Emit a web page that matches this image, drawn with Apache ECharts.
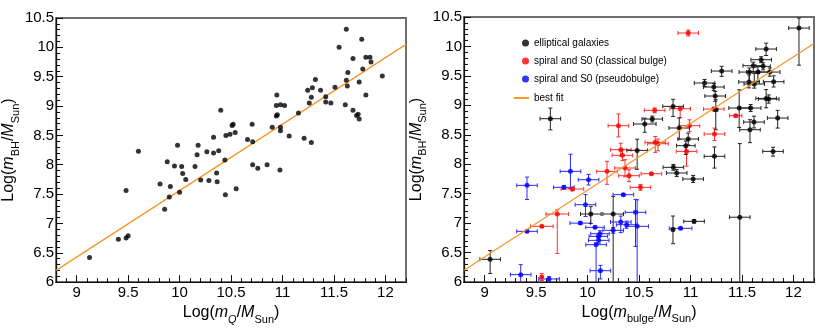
<!DOCTYPE html>
<html>
<head>
<meta charset="utf-8">
<script src="https://cdn.jsdelivr.net/npm/echarts@6/dist/echarts.min.js"></script>
<style>
html, body { margin: 0; padding: 0; background: #fff; }
#chart { width: 822px; height: 330px; }
</style>
</head>
<body>
<div id="chart"></div>
<script>
// left panel: log(mQ), log(mBH)
var quasiMassPoints = [
	[9.125, 6.42], [9.405, 6.73], [9.48, 6.75], [9.50, 6.79], [9.48, 7.56], [9.60, 8.23],
	[9.81, 7.67], [9.855, 7.24], [9.88, 8.05], [9.90, 7.45], [9.91, 7.63], [9.95, 7.98],
	[9.98, 8.33], [10.0, 7.53], [10.02, 7.97], [10.03, 7.85], [10.06, 7.75], [10.15, 7.97],
	[10.17, 8.17], [10.18, 8.33], [10.205, 7.74], [10.265, 8.22], [10.285, 7.73], [10.33, 8.20],
	[10.33, 8.47], [10.36, 7.86], [10.365, 7.71], [10.38, 8.24], [10.40, 8.93], [10.44, 8.08],
	[10.445, 7.49], [10.45, 8.50], [10.49, 8.52], [10.51, 8.67], [10.52, 8.69], [10.54, 8.55],
	[10.55, 7.59], [10.66, 8.43], [10.705, 8.69], [10.71, 8.39], [10.71, 8.00], [10.76, 7.94],
	[10.85, 8.00], [10.90, 8.64], [10.94, 8.83], [10.945, 9.19], [10.95, 8.85], [10.94, 9.01],
	[10.975, 7.91], [10.98, 8.58], [10.98, 8.64], [10.98, 9.02], [11.02, 9.01], [11.065, 8.49],
	[11.155, 8.88], [11.21, 8.45], [11.245, 9.27], [11.26, 9.05], [11.28, 9.15], [11.28, 8.38],
	[11.29, 9.31], [11.32, 9.45], [11.37, 9.27], [11.42, 9.16], [11.42, 9.07], [11.47, 9.05],
	[11.51, 9.32], [11.55, 10.00], [11.61, 9.02], [11.62, 10.31], [11.62, 9.44], [11.63, 9.34],
	[11.635, 9.57], [11.685, 9.81], [11.685, 8.93], [11.72, 8.84], [11.735, 8.86], [11.745, 8.78],
	[11.745, 9.41], [11.77, 10.14], [11.78, 9.63], [11.81, 9.19], [11.81, 9.83], [11.85, 9.83],
	[11.86, 9.75], [11.97, 9.51]
];

// right panel rows: [log(mbulge), log(mBH), xErr, yErrUp, yErrDown]
var ellipticals = [
	[9.054, 6.385, 0.10, 0.15, 0.24], [9.639, 8.773, 0.10, 0.18, 0.19], [10.032, 7.154, 0.10, 0.13, 0.16],
	[10.249, 7.154, 0.10, 0.30, 1.20], [10.482, 8.235, 0.10, 0.19, 0.32], [10.556, 8.683, 0.11, 0.10, 0.14],
	[10.629, 8.767, 0.10, 0.05, 0.05], [10.831, 8.982, 0.10, 0.12, 0.17], [10.891, 8.615, 0.10, 0.17, 0.19],
	[10.978, 8.428, 0.10, 0.10, 0.10], [10.955, 8.315, 0.09, 0.08, 0.15], [10.834, 7.947, 0.10, 0.05, 0.05],
	[10.866, 7.851, 0.10, 0.06, 0.06], [11.026, 7.749, 0.10, 0.06, 0.06], [11.035, 7.03, 0.10, 0.03, 0.03],
	[10.83, 6.89, 0.01, 0.23, 0.24], [11.479, 7.10, 0.10, 1.25, 1.15], [11.233, 8.134, 0.10, 0.16, 0.20],
	[11.802, 8.218, 0.10, 0.07, 0.08], [11.735, 9.956, 0.10, 0.10, 0.11], [11.687, 9.775, 0.10, 0.05, 0.05],
	[11.61, 9.673, 0.10, 0.06, 0.10], [11.706, 9.662, 0.07, 0.06, 0.06], [11.572, 9.565, 0.10, 0.07, 0.22],
	[11.655, 9.565, 0.11, 0.09, 0.16], [11.77, 9.565, 0.10, 0.07, 0.07], [11.569, 9.396, 0.10, 0.12, 0.10],
	[11.62, 9.362, 0.10, 0.18, 0.07], [11.808, 9.401, 0.10, 0.10, 0.09], [11.303, 9.582, 0.10, 0.08, 0.09],
	[11.137, 9.379, 0.10, 0.06, 0.06], [11.227, 9.311, 0.10, 0.06, 0.06], [11.24, 9.158, 0.10, 0.08, 0.09],
	[11.735, 9.118, 0.10, 0.15, 0.16], [11.76, 9.107, 0.10, 0.07, 0.07], [11.585, 8.954, 0.10, 0.06, 0.06],
	[11.473, 8.954, 0.10, 0.31, 0.33], [11.246, 8.926, 0.02, 0.17, 0.34], [11.617, 8.716, 0.10, 0.10, 0.10],
	[11.578, 8.586, 0.10, 0.17, 0.22], [11.847, 8.784, 0.10, 0.13, 0.17], [12.054, 10.312, 0.10, 0.17, 0.63]
];
var classicalBulges = [
	[10.978, 10.228, 0.10, 0.05, 0.05], [10.90, 8.943, 0.10, 0.03, 0.15], [10.652, 8.915, 0.10, 0.04, 0.04],
	[10.30, 8.654, 0.10, 0.20, 0.19], [10.99, 8.654, 0.10, 0.10, 0.10], [10.962, 8.218, 0.10, 0.10, 0.25],
	[10.658, 8.371, 0.10, 0.10, 0.17], [10.684, 8.348, 0.10, 0.08, 0.12], [10.323, 8.247, 0.10, 0.11, 0.11],
	[10.339, 8.151, 0.10, 0.09, 0.09], [10.189, 7.879, 0.10, 0.17, 0.22], [10.364, 7.936, 0.10, 0.14, 0.15],
	[10.403, 7.805, 0.10, 0.10, 0.10], [10.62, 7.839, 0.10, 0.02, 0.02], [10.514, 7.607, 0.10, 0.05, 0.05],
	[9.853, 7.579, 0.11, 0.03, 0.03], [9.706, 7.154, 0.11, 0.07, 0.67], [9.556, 6.945, 0.11, 0.02, 0.02],
	[9.556, 6.085, 0.01, 0.06, 0.06], [11.233, 8.513, 0.10, 0.10, 0.11], [11.44, 8.824, 0.06, 0.02, 0.02],
	[11.227, 8.937, 0.10, 0.03, 0.03]
];
var pseudobulges = [
	[9.412, 7.641, 0.10, 0.14, 0.24], [9.412, 6.86, 0.10, 0.02, 0.02], [9.351, 6.125, 0.10, 0.17, 0.14],
	[9.626, 6.051, 0.10, 0.04, 0.04], [9.834, 7.879, 0.10, 0.29, 0.29], [10.01, 7.737, 0.10, 0.09, 0.09],
	[9.77, 7.607, 0.10, 0.03, 0.03], [10.348, 7.483, 0.10, 0.02, 0.02], [9.98, 7.313, 0.10, 0.17, 0.20],
	[10.466, 7.183, 0.10, 0.22, 0.58], [9.93, 7.0, 0.10, 0.02, 0.02], [10.073, 6.928, 0.09, 0.02, 0.02],
	[10.323, 7.019, 0.10, 0.10, 0.18], [10.38, 6.973, 0.10, 0.06, 0.06], [10.482, 6.945, 0.11, 0.45, 1.0],
	[10.249, 6.877, 0.10, 0.05, 0.05], [10.121, 6.82, 0.09, 0.05, 0.05], [10.105, 6.775, 0.09, 0.05, 0.05],
	[10.109, 6.707, 0.10, 0.05, 0.05], [10.083, 6.634, 0.10, 0.03, 0.70], [10.125, 6.192, 0.10, 0.09, 0.14],
	[10.904, 6.911, 0.11, 0.02, 0.02]
];

var bestFit = [[8.8, 6.2], [12.2, 10.05]];

var xMajorTicks = [9, 9.5, 10, 10.5, 11, 11.5, 12];
var xRange = [8.8, 12.2];
var yRange = [6, 10.5];

var FONT = 'Liberation Sans';
var ORANGE = '#f7962b';
var AXIS = '#111';

var nameRich = {
	n: { fontSize: 16, lineHeight: 18, verticalAlign: 'top', color: '#000', fontFamily: FONT },
	i: { fontSize: 16, lineHeight: 18, verticalAlign: 'top', color: '#000', fontStyle: 'italic', fontFamily: FONT },
	s: { fontSize: 11, lineHeight: 12, verticalAlign: 'top', padding: [9, 0, 0, 0], color: '#000', fontFamily: FONT },
	si: { fontSize: 11, lineHeight: 12, verticalAlign: 'top', padding: [9, 0, 0, 0], color: '#000', fontStyle: 'italic', fontFamily: FONT }
};
function massName(sub) {
	return '{n|Log(}{i|m}' + sub + '{n|/}{i|M}{s|Sun}{n|)}';
}

function mainX(grid, name) {
	return {
		type: 'value', gridIndex: grid, position: 'bottom', min: xRange[0], max: xRange[1],
		name: name, nameLocation: 'middle', nameGap: 19,
		nameTextStyle: { rich: nameRich },
		axisLine: { show: true, onZero: false, lineStyle: { color: AXIS, width: 1.2 } },
		axisTick: { show: true, inside: true, length: 7, customValues: xMajorTicks, lineStyle: { color: AXIS } },
		axisLabel: { customValues: xMajorTicks, margin: 3, color: '#000', fontSize: 15, fontFamily: FONT },
		splitLine: { show: false }
	};
}
// second bottom axis, only for the short 0.1 ticks (ticks need a visible axis line)
function minorX(grid) {
	return {
		type: 'value', gridIndex: grid, position: 'bottom', min: xRange[0], max: xRange[1], interval: 0.1,
		axisLine: { show: true, onZero: false, lineStyle: { color: AXIS, width: 1.2 } },
		axisTick: { show: true, inside: true, length: 4, lineStyle: { color: AXIS } },
		axisLabel: { show: false },
		splitLine: { show: false }
	};
}
function mainY(grid, name) {
	return {
		type: 'value', gridIndex: grid, position: 'left', min: yRange[0], max: yRange[1], interval: 0.5,
		name: name, nameLocation: 'middle', nameGap: 29,
		nameTextStyle: { rich: nameRich },
		axisLine: { show: true, onZero: false, lineStyle: { color: AXIS, width: 1.2 } },
		axisTick: { show: true, inside: true, length: 7, lineStyle: { color: AXIS } },
		minorTick: { show: true, splitNumber: 5, length: 4, lineStyle: { color: AXIS } },
		axisLabel: { margin: 2, color: '#000', fontSize: 15, fontFamily: FONT },
		splitLine: { show: false }
	};
}

function errorBars(color) {
	return function (params, api) {
		var x = api.value(0), y = api.value(1);
		var xe = api.value(2), yu = api.value(3), yd = api.value(4);
		var l = api.coord([x - xe, y]), r = api.coord([x + xe, y]);
		var top = api.coord([x, y + yu]), bot = api.coord([x, y - yd]);
		var c = 2;
		var st = { stroke: color, lineWidth: 1 };
		function seg(x1, y1, x2, y2) {
			return { type: 'line', shape: { x1: x1, y1: y1, x2: x2, y2: y2 }, style: st };
		}
		return {
			type: 'group',
			children: [
				seg(l[0], l[1], r[0], r[1]),
				seg(top[0], top[1], bot[0], bot[1]),
				seg(l[0], l[1] - c, l[0], l[1] + c),
				seg(r[0], r[1] - c, r[0], r[1] + c),
				seg(top[0] - c, top[1], top[0] + c, top[1]),
				seg(bot[0] - c, bot[1], bot[0] + c, bot[1])
			]
		};
	};
}

function groupSeries(name, data, color, barColor) {
	return [
		{
			type: 'custom', name: name + ' err', xAxisIndex: 2, yAxisIndex: 1, clip: true, z: 2,
			renderItem: errorBars(barColor), encode: { x: 0, y: 1 }, data: data
		},
		{
			type: 'scatter', name: name, xAxisIndex: 2, yAxisIndex: 1, z: 3,
			symbol: 'circle', symbolSize: 5, itemStyle: { color: color },
			encode: { x: 0, y: 1 }, data: data
		}
	];
}

var chart = echarts.init(document.getElementById('chart'), null, { renderer: 'canvas' });
var option = {
	animation: false,
	backgroundColor: '#fff',
	textStyle: { fontFamily: FONT },
	grid: [
		{ left: 54, top: 18, width: 352, height: 266, show: true, borderColor: '#6e6e6e', borderWidth: 2, backgroundColor: 'transparent' },
		{ left: 464, top: 17, width: 350, height: 265, show: true, borderColor: '#6e6e6e', borderWidth: 2, backgroundColor: 'transparent' }
	],
	xAxis: [
		mainX(0, massName('{si|Q}')), minorX(0),
		mainX(1, massName('{s|bulge}')), minorX(1)
	],
	yAxis: [
		mainY(0, massName('{s|BH}')),
		mainY(1, massName('{s|BH}'))
	],
	legend: [
		{
			data: ['elliptical galaxies', 'spiral and S0 (classical bulge)', 'spiral and S0 (pseudobulge)'],
			orient: 'vertical', left: 517, top: 33, itemWidth: 7, itemHeight: 7, itemGap: 8,
			icon: 'circle', selectedMode: false,
			textStyle: { fontSize: 10, color: '#000', fontFamily: FONT }
		},
		{
			data: ['best fit'],
			orient: 'vertical', left: 509, top: 88, itemWidth: 15, itemHeight: 2,
			icon: 'rect', selectedMode: false,
			textStyle: { fontSize: 10, color: '#000', fontFamily: FONT }
		}
	],
	series: [
		{
			type: 'scatter', name: 'mQ', xAxisIndex: 0, yAxisIndex: 0, z: 3,
			symbol: 'circle', symbolSize: 5, itemStyle: { color: '#000' },
			data: quasiMassPoints
		},
		{
			type: 'line', name: 'fit left', xAxisIndex: 0, yAxisIndex: 0, z: 2,
			showSymbol: false, symbol: 'none', lineStyle: { color: ORANGE, width: 1.3 },
			data: bestFit
		}
	]
		.concat(groupSeries('spiral and S0 (pseudobulge)', pseudobulges, '#0000ff', '#2a2aff'))
		.concat(groupSeries('spiral and S0 (classical bulge)', classicalBulges, '#ff0000', '#ff3030'))
		.concat(groupSeries('elliptical galaxies', ellipticals, '#000', '#222'))
		.concat([{
			type: 'line', name: 'best fit', xAxisIndex: 2, yAxisIndex: 1, z: 4,
			showSymbol: false, symbol: 'none', itemStyle: { color: ORANGE },
			lineStyle: { color: ORANGE, width: 1.3 },
			data: bestFit
		}])
};
chart.setOption(option);
</script>
</body>
</html>
